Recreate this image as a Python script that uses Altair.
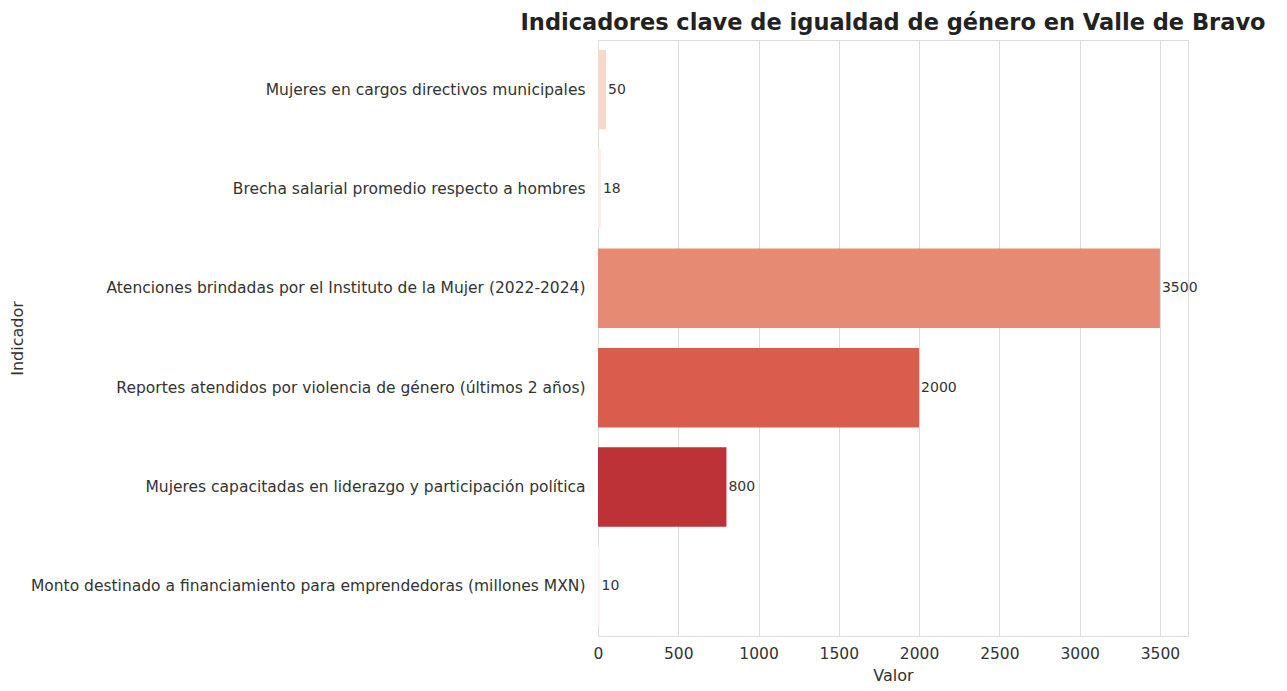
import altair as alt
import pandas as pd

indicadores = [
    "Mujeres en cargos directivos municipales",
    "Brecha salarial promedio respecto a hombres",
    "Atenciones brindadas por el Instituto de la Mujer (2022-2024)",
    "Reportes atendidos por violencia de género (últimos 2 años)",
    "Mujeres capacitadas en liderazgo y participación política",
    "Monto destinado a financiamiento para emprendedoras (millones MXN)",
]
valores = [50, 18, 3500, 2000, 800, 10]
colores = ["#f7d8ca", "#fcebe3", "#e68a73", "#d95c4c", "#bd3236", "#fff1ec"]
ticks = [0, 500, 1000, 1500, 2000, 2500, 3000, 3500]

df = pd.DataFrame({"Indicador": indicadores, "Valor": valores, "Color": colores})

FONT = "DejaVu Sans"

y_enc = alt.Y(
    "Indicador:N",
    sort=indicadores,
    scale=alt.Scale(paddingInner=0.2, paddingOuter=0.1),
    axis=alt.Axis(
        title="Indicador",
        labelFontSize=15.5,
        labelColor="#333333",
        labelFont=FONT,
        labelPadding=13,
        labelLimit=700,
        ticks=False,
        domain=False,
        grid=False,
        titleFont=FONT,
        titleFontSize=16,
        titleFontWeight="normal",
        titleColor="#333333",
        titleX=-589,
        titleBaseline="top",
    ),
)

x_enc = alt.X(
    "Valor:Q",
    scale=alt.Scale(domain=[0, 3675], nice=False),
    axis=alt.Axis(
        title="Valor",
        values=ticks,
        labelFontSize=15.5,
        labelColor="#333333",
        labelFont=FONT,
        labelPadding=10,
        labelFlush=False,
        ticks=False,
        domain=False,
        grid=True,
        gridColor="#dddddd",
        gridWidth=1,
        titleFont=FONT,
        titleFontSize=16,
        titleFontWeight="normal",
        titleColor="#333333",
        titlePadding=6,
        format="d",
    ),
)

bars = alt.Chart(df).mark_bar().encode(
    x=x_enc,
    y=y_enc,
    color=alt.Color("Color:N", scale=None),
)

labels = alt.Chart(df).mark_text(
    align="left", baseline="middle", dx=2, fontSize=14, font=FONT, color="#333333"
).encode(
    x=alt.X("Valor:Q"),
    y=alt.Y("Indicador:N", sort=indicadores),
    text=alt.Text("Valor:Q", format="d"),
)

chart = (
    alt.layer(bars, labels)
    .properties(
        width=590,
        height=596,
        title=alt.TitleParams(
            "Indicadores clave de igualdad de género en Valle de Bravo",
            font=FONT,
            fontSize=22.5,
            fontWeight="bold",
            color="#222222",
            anchor="middle",
            offset=6,
        ),
        autosize=alt.AutoSizeParams(type="none"),
        padding={"left": 590, "top": 32, "right": 90, "bottom": 52},
    )
    .configure_view(stroke="#cccccc", strokeWidth=1.2)
    .configure(background="white")
)

chart.save("out.html", embed_options={"renderer": "svg", "actions": False})
